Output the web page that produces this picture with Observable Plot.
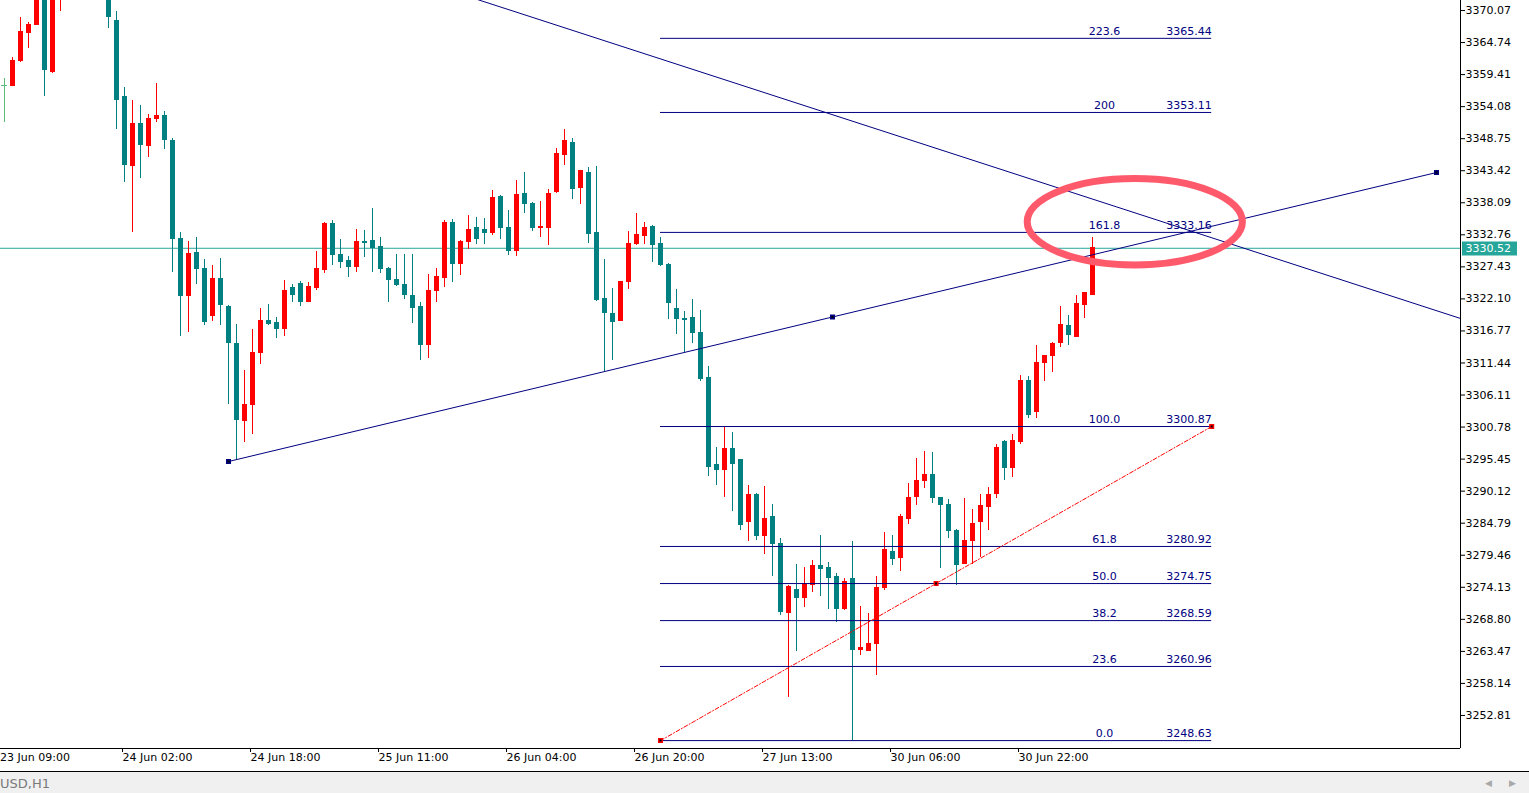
<!DOCTYPE html>
<html>
<head>
<meta charset="utf-8">
<script src="https://cdn.jsdelivr.net/npm/d3@7"></script>
<script src="https://cdn.jsdelivr.net/npm/@observablehq/plot@0.6"></script>
<style>
  html, body { margin: 0; padding: 0; background: #fff; overflow: hidden; }
  #chart svg { display: block; }
  #statusbar { position: relative; height: 21px; background: #f0f0f0; border-top: 1px solid #000;
    font: 13px "DejaVu Sans", sans-serif; color: #7a7a7a; line-height: 23px; white-space: nowrap; }
  #statusbar .sym { position: absolute; left: 0; top: 0; }
  #statusbar .arr { position: absolute; top: 0; font-size: 9px; color: #a8a8a8; }
</style>
</head>
<body>
<div id="chart"></div>
<div id="statusbar"><span class="sym">USD,H1</span><span class="arr" style="left:1485px">&#9664;</span><span class="arr" style="left:1509px">&#9654;</span></div>
<script>
// ---- Candles (H1), index = bar number; null = bar hidden above the visible range ----
const opens = [3357.54,3357.43,3361.75,3366.41,3367.74,3374.50,3359.92,3375.00,null,null,null,null,null,3376.00,3368.40,3355.60,3344.17,3351.11,3347.50,3351.99,3352.44,3348.44,3332.14,3322.50,3329.81,3327.15,3319.22,3325.49,3320.83,3314.68,3301.75,3304.42,3313.07,3318.50,3318.01,3317.06,3323.83,3324.66,3321.55,3323.88,3326.87,3334.64,3329.48,3328.32,3327.37,3331.64,3331.81,3330.65,3327.15,3325.32,3324.49,3322.66,3320.67,3314.40,3323.38,3325.54,3334.80,3327.87,3331.53,3333.81,3333.64,3333.02,3339.13,3333.97,3330.03,3339.63,3337.96,3333.86,3333.86,3339.84,3346.00,3348.11,3340.51,3343.12,3333.14,3322.16,3319.67,3318.39,3324.87,3331.20,3332.53,3334.14,3331.31,3327.70,3320.50,3318.72,3318.84,3316.51,3308.86,3294.39,3293.72,3297.05,3295.38,3284.96,3289.40,3282.63,3285.74,3281.25,3269.82,3273.60,3272.31,3274.48,3277.75,3277.42,3275.92,3270.48,3275.43,3263.67,3263.50,3264.66,3273.98,3280.08,3278.97,3285.45,3289.11,3291.89,3292.89,3289.06,3287.90,3283.41,3277.97,3281.79,3284.96,3287.45,3289.61,3298.33,3293.94,3298.26,3308.52,3303.25,3311.40,3312.57,3314.73,3317.67,3315.84,3321.05,3322.83];
const highs = [3358.71,3362.25,3368.90,3368.07,3375.06,3376.50,3379.00,3381.50,null,null,null,null,null,3378.00,3369.90,3357.26,3355.10,3354.27,3352.77,3357.92,3353.27,3348.78,3333.14,3331.64,3332.36,3328.65,3327.65,3328.82,3321.00,3317.84,3310.19,3317.06,3320.50,3321.22,3319.00,3325.16,3324.49,3324.99,3324.82,3329.98,3334.80,3335.14,3331.98,3329.15,3333.64,3333.47,3337.13,3332.31,3327.32,3329.48,3329.48,3329.48,3321.50,3326.16,3327.15,3335.14,3335.30,3331.81,3335.97,3335.64,3335.47,3340.13,3339.30,3336.80,3341.79,3343.12,3338.18,3338.30,3340.29,3347.11,3350.27,3348.78,3343.29,3343.95,3344.17,3328.65,3323.83,3324.99,3333.31,3336.30,3334.80,3334.31,3332.31,3327.99,3323.66,3320.00,3322.00,3320.17,3310.85,3297.38,3300.76,3299.88,3295.38,3291.06,3289.73,3290.89,3287.90,3282.24,3274.43,3277.92,3277.42,3278.59,3282.74,3278.25,3276.47,3275.59,3281.75,3270.98,3269.77,3275.92,3283.24,3282.74,3286.24,3291.39,3295.55,3296.72,3296.55,3289.06,3288.73,3283.74,3288.90,3287.07,3289.56,3290.73,3297.88,3298.54,3299.59,3309.36,3309.19,3314.35,3312.52,3314.85,3320.83,3319.34,3322.66,3323.16,3332.31];
const lows = [3351.49,3357.43,3361.47,3363.75,3367.74,3355.76,3359.64,3369.90,null,null,null,null,null,3367.07,3350.27,3341.46,3333.19,3342.12,3345.67,3351.49,3347.00,3326.54,3315.89,3316.56,3324.54,3317.72,3318.39,3317.72,3304.58,3295.22,3298.26,3299.59,3311.24,3317.67,3315.56,3315.89,3321.55,3320.88,3321.55,3323.54,3326.37,3327.70,3327.20,3325.71,3326.54,3329.03,3326.54,3326.37,3321.55,3324.21,3322.05,3318.06,3311.90,3312.23,3321.55,3324.04,3324.87,3326.04,3330.36,3331.20,3331.20,3332.69,3332.03,3329.37,3329.20,3336.35,3333.36,3332.36,3331.03,3339.68,3344.34,3338.68,3337.85,3331.36,3321.61,3310.07,3311.90,3318.39,3323.71,3331.03,3331.20,3328.20,3327.54,3318.72,3316.22,3313.23,3314.73,3308.41,3292.56,3291.06,3289.06,3286.74,3283.62,3281.79,3281.96,3279.63,3275.97,3269.49,3255.85,3263.50,3270.82,3273.31,3272.65,3270.48,3268.32,3270.32,3248.63,3262.84,3263.50,3259.51,3273.64,3277.80,3276.81,3284.62,3287.78,3290.61,3288.12,3277.31,3282.29,3274.48,3277.97,3277.97,3279.13,3283.62,3288.95,3291.94,3292.44,3297.93,3302.25,3302.25,3308.41,3309.91,3314.06,3314.40,3315.68,3318.89,3322.66];
const closes = [3357.54,3361.75,3366.57,3367.74,3374.20,3360.25,3378.00,3380.00,null,null,null,null,null,3368.95,3355.26,3344.34,3351.11,3347.66,3351.94,3352.44,3348.49,3332.03,3322.50,3329.65,3327.15,3318.22,3325.49,3321.05,3314.73,3301.92,3304.53,3313.18,3318.50,3317.89,3317.06,3323.49,3322.71,3321.55,3324.16,3326.99,3334.64,3329.37,3328.20,3327.37,3331.64,3331.36,3330.53,3327.04,3325.21,3324.38,3322.71,3320.55,3314.40,3323.49,3325.66,3334.80,3327.87,3331.64,3333.64,3332.03,3333.02,3338.96,3333.86,3330.03,3339.46,3337.85,3333.86,3334.14,3339.63,3346.12,3348.28,3340.34,3343.29,3332.86,3321.88,3319.72,3318.22,3324.87,3331.31,3332.81,3333.97,3331.03,3327.70,3321.38,3318.72,3318.55,3316.39,3308.74,3294.22,3293.72,3297.21,3294.72,3284.46,3289.56,3282.63,3285.57,3281.30,3269.99,3274.26,3272.31,3274.64,3277.75,3277.14,3275.64,3270.48,3274.93,3263.67,3264.00,3264.66,3273.93,3280.25,3278.80,3285.90,3288.90,3291.89,3292.89,3288.95,3287.78,3283.46,3277.80,3281.91,3284.74,3287.73,3289.56,3297.38,3293.94,3298.54,3308.52,3302.75,3311.52,3312.52,3314.68,3317.84,3316.06,3321.17,3323.05,3330.52];

// ---- Axes ----
const priceTicks = [3252.81,3258.14,3263.47,3268.80,3274.13,3279.46,3284.79,3290.12,3295.45,3300.78,3306.11,3311.44,3316.77,3322.10,3327.43,3332.76,3338.09,3343.42,3348.75,3354.08,3359.41,3364.74,3370.07];
const timeTickBars = [-1,15,31,47,63,79,95,111,127];
const timeTickLabels = ["23 Jun 09:00","24 Jun 02:00","24 Jun 18:00","25 Jun 11:00","26 Jun 04:00","26 Jun 20:00","27 Jun 13:00","30 Jun 06:00","30 Jun 22:00"];

// ---- Fibonacci retracement ----
const fibLevels = ["0.0","23.6","38.2","50.0","61.8","100.0","161.8","200","223.6"];
const fibPrices = [3248.63,3260.96,3268.59,3274.75,3280.92,3300.87,3333.16,3353.11,3365.44];
const fibBars = [82, 150.9];          // start / end bar of the fib tool
const fibLabelBar = 137.5;
const fibAnchorPrices = [3248.63, 3300.87];

// ---- Trend lines ----
const trendUpBars = [28, 103.5, 179];
const trendUpPrices = [3295.05, 3319.09, 3343.12];
const trendDownBars = [40, 190];
const trendDownPrices = [3380.15, 3315.39];

// ---- Other ----
const lastPrice = 3330.52;
const highlightBars = [127.9, 154.8];
const highlightPrices = [3327.67, 3342.04];

const upColor = "#ff0000", downColor = "#008080", dojiColor = "#5dbb7d";
const navy = "#000080", bidColor = "#26a69a", ringColor = "#ff5a6b";

const candles = opens.map((o, i) => o == null ? null :
  {bar: i, open: o, high: highs[i], low: lows[i], close: closes[i]}).filter(Boolean);
const candleColor = d => d.close > d.open ? upColor : d.close < d.open ? downColor : dojiColor;

const tickLabelMap = new Map(timeTickBars.map((b, i) => [b, timeTickLabels[i]]));
const firstTick = timeTickBars.filter(b => b < 0);
const otherTicks = timeTickBars.filter(b => b >= 0);
const trendUp = trendUpBars.map((b, i) => ({bar: b, price: trendUpPrices[i]}));
const trendDown = trendDownBars.map((b, i) => ({bar: b, price: trendDownPrices[i]}));
const fibDiag = fibBars.map((b, i) => ({bar: b, price: fibAnchorPrices[i]}));
const fibMarks = [fibDiag[0], {bar: (fibBars[0] + fibBars[1]) / 2, price: (fibAnchorPrices[0] + fibAnchorPrices[1]) / 2}, fibDiag[1]];

const chart = Plot.plot({
  width: 1529,
  height: 771,
  marginLeft: 0,
  marginTop: 0,
  marginRight: 69,
  marginBottom: 23,
  style: {fontFamily: "DejaVu Sans, sans-serif", fontSize: "11px", background: "#fff", color: "#000"},
  x: {domain: [-0.5, 182]},
  y: {domain: [3247.315, 3371.733]},
  color: {type: "identity"},
  marks: [
    Plot.ruleY([lastPrice], {stroke: bidColor, strokeWidth: 1}),
    Plot.ruleX(candles, {x: "bar", y1: "low", y2: "high", stroke: candleColor, strokeWidth: 1, clip: true, shapeRendering: "crispEdges"}),
    Plot.rect(candles, {
      x1: d => d.bar - 0.3125, x2: d => d.bar + 0.3125,
      y1: d => Math.min(d.open, d.close), y2: d => Math.max(d.open, d.close),
      fill: candleColor, insetTop: -0.5, insetBottom: -0.5, clip: true, shapeRendering: "crispEdges"
    }),
    Plot.ruleY(fibPrices, {x1: fibBars[0], x2: fibBars[1], stroke: navy, strokeWidth: 1}),
    Plot.text(fibPrices, {x: fibLabelBar, y: d => d, text: (d, i) => fibLevels[i], fill: navy, dy: -7, textAnchor: "middle"}),
    Plot.text(fibPrices, {x: fibBars[1], y: d => d, text: d => d.toFixed(2), fill: navy, dy: -7, textAnchor: "end"}),
    Plot.line(fibDiag, {x: "bar", y: "price", stroke: upColor, strokeWidth: 1, strokeDasharray: "4,2,1,2"}),
    Plot.line(trendDown, {x: "bar", y: "price", stroke: navy, strokeWidth: 1, clip: true}),
    Plot.line(trendUp, {x: "bar", y: "price", stroke: navy, strokeWidth: 1, clip: true}),
    Plot.dot(trendUp, {x: "bar", y: "price", symbol: "square", r: 2, fill: "#000", stroke: navy, strokeWidth: 1.5}),
    Plot.dot(fibMarks, {x: "bar", y: "price", symbol: "square", r: 2, fill: "#000", stroke: upColor, strokeWidth: 1.5}),
    Plot.ruleX([182], {stroke: "#000"}),
    Plot.ruleY([3247.315], {stroke: "#000"}),
    Plot.axisY(priceTicks, {anchor: "right", tickSize: 4, tickPadding: 1, tickFormat: d => d.toFixed(2), label: null}),
    Plot.axisX(otherTicks, {anchor: "bottom", tickSize: 4, tickPadding: 1, tickFormat: d => tickLabelMap.get(d), textAnchor: "start", dx: -2, label: null}),
    Plot.axisX(firstTick, {anchor: "bottom", tickSize: 0, tickPadding: 5, tickFormat: d => tickLabelMap.get(d), textAnchor: "start", dx: 3.5, label: null})
  ]
});

document.getElementById("chart").appendChild(chart);

// Overlays positioned with the plot's own scales
const xs = chart.scale("x"), ys = chart.scale("y");
const sx = xs.apply ? v => xs.apply(v) : d3.scaleLinear(xs.domain, xs.range);
const sy = ys.apply ? v => ys.apply(v) : d3.scaleLinear(ys.domain, ys.range);
const svg = d3.select(chart);

// highlight ring
const ex1 = sx(highlightBars[0]), ex2 = sx(highlightBars[1]);
const ey1 = sy(highlightPrices[1]), ey2 = sy(highlightPrices[0]);
svg.append("ellipse")
  .attr("cx", (ex1 + ex2) / 2).attr("cy", (ey1 + ey2) / 2)
  .attr("rx", (ex2 - ex1) / 2).attr("ry", (ey2 - ey1) / 2)
  .attr("fill", "none").attr("stroke", ringColor).attr("stroke-width", 7);

// current price label on the axis
const axisX0 = sx(182);
const py = Math.round(sy(lastPrice)) + 0.5;
svg.append("rect").attr("x", axisX0 + 2).attr("y", py - 7).attr("width", 55).attr("height", 14).attr("fill", bidColor);
svg.append("text").attr("x", axisX0 + 5.5).attr("y", py).attr("dy", "0.35em")
  .attr("text-anchor", "start").attr("fill", "#fff").attr("font-size", 11).text(lastPrice.toFixed(2));
</script>
</body>
</html>
